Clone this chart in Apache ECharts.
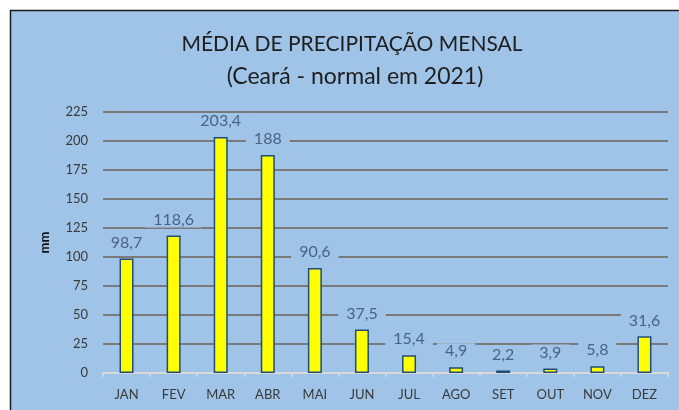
<!DOCTYPE html>
<html><head><meta charset="utf-8">
<script src="https://cdn.jsdelivr.net/npm/echarts@6/dist/echarts.min.js"></script>
<style>html,body{margin:0;padding:0;background:#fff}#c{width:679px;height:410px}</style>
</head><body><div id="c"></div>
<script>
const months = ['JAN','FEV','MAR','ABR','MAI','JUN','JUL','AGO','SET','OUT','NOV','DEZ'];
const precip = [98.7, 118.6, 203.4, 188, 90.6, 37.5, 15.4, 4.9, 2.2, 3.9, 5.8, 31.6];
const yTicks = [0, 25, 50, 75, 100, 125, 150, 175, 200, 225];
const titleText = 'MÉDIA DE PRECIPITAÇÃO MENSAL';
const subtitleText = '(Ceará - normal em 2021)';
const PANEL = '#a0c4e8';
const FONT = 'Lato, "Open Sans", sans-serif';
const chart = echarts.init(document.getElementById('c'));
chart.setOption({
  backgroundColor: '#ffffff',
  animation: false,
  graphic: [{
    type: 'rect', z: -10, silent: true,
    shape: { x: 10.5, y: 10.5, width: 700, height: 420 },
    style: { fill: PANEL, stroke: '#1a1a1a', lineWidth: 1.5 }
  }],
  title: [{
    text: titleText, left: 347, top: 29, textAlign: 'center',
    textStyle: { fontFamily: FONT, fontSize: 21, fontWeight: 'normal', color: '#1e1e1e' }
  }, {
    text: subtitleText, left: 350, top: 60, textAlign: 'center',
    textStyle: { fontFamily: FONT, fontSize: 23, fontWeight: 'normal', color: '#1e1e1e' }
  }],
  grid: { left: 103, right: 11, top: 112, bottom: 37 },
  xAxis: {
    type: 'category', data: months,
    axisLine: { show: true, lineStyle: { color: '#d9d9d9', width: 2 } },
    axisTick: { show: true, length: 4, lineStyle: { color: '#d9d9d9', width: 1.5 } },
    axisLabel: { fontFamily: FONT, fontSize: 13, color: '#3a3a3a', margin: 15 }
  },
  yAxis: {
    type: 'value', min: 0, max: 225, interval: 25,
    name: 'mm', nameLocation: 'middle', nameGap: 52, nameRotate: 90,
    nameTextStyle: { fontFamily: FONT, fontSize: 13, fontWeight: 'bold', color: '#111' },
    axisLine: { show: false }, axisTick: { show: false },
    axisLabel: { fontFamily: FONT, fontSize: 13, color: '#3a3a3a', margin: 15,
      formatter: v => yTicks.includes(v) ? String(v) : '' },
    splitLine: { lineStyle: { color: '#7a7a7a', width: 2 } }
  },
  series: [{
    type: 'bar', data: precip, barWidth: 14,
    itemStyle: { color: '#ffff00', borderColor: '#1f4e79', borderWidth: 1.5 },
    label: {
      show: true, position: 'top', distance: 8,
      fontFamily: FONT, fontSize: 16, color: '#4a6285',
      backgroundColor: PANEL, padding: [0, 8],
      formatter: p => String(p.value).replace('.', ',')
    }
  }]
});
</script></body></html>
